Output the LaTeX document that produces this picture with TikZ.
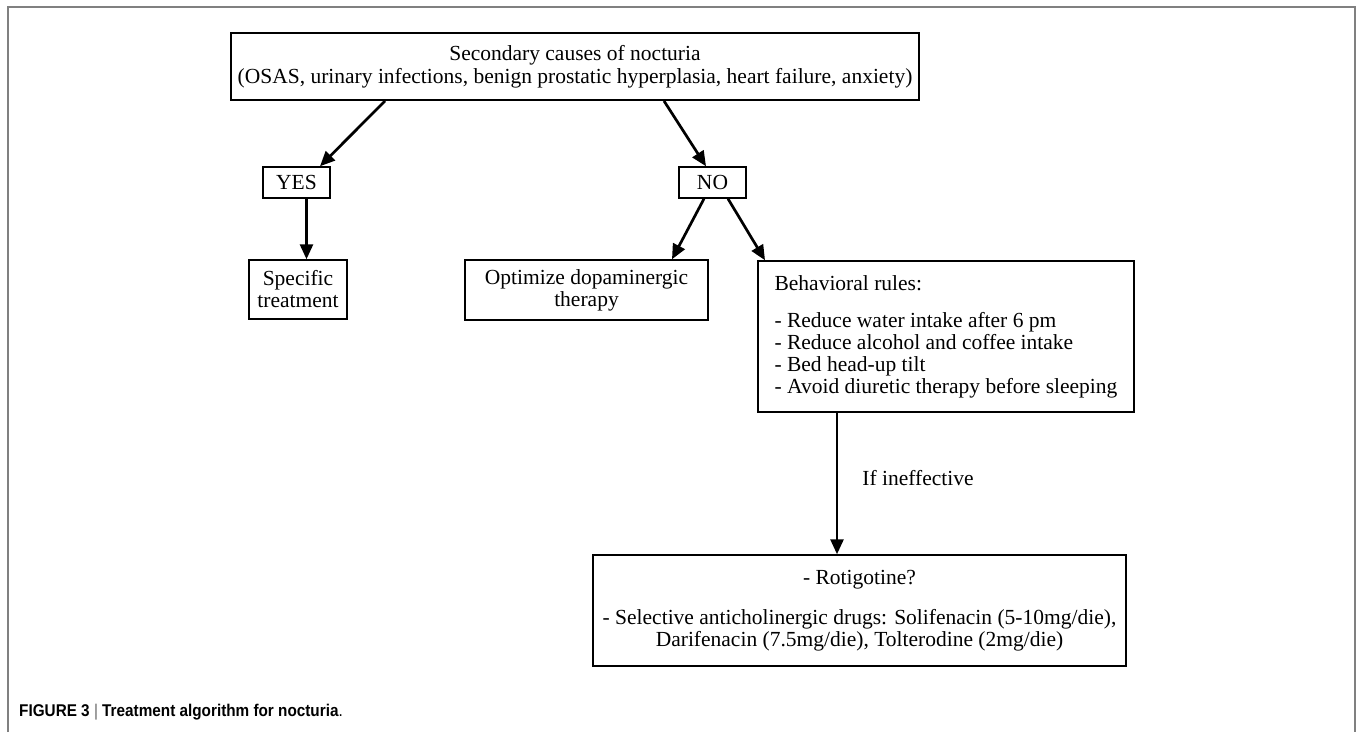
\documentclass[tikz,border=0pt]{standalone}
\usepackage{fontspec}
\setmainfont{Liberation Serif}
\newfontfamily\capfont[FakeStretch=0.9]{Liberation Sans}
\usetikzlibrary{arrows.meta,calc}
\newcommand{\fs}{\fontsize{21.5}{22}\selectfont}
\tikzset{
  box/.style={draw, line width=1.5pt, inner sep=0pt, font=\fs, align=center},
  arr/.style={line width=2.7pt, -{Triangle[length=15pt,width=13pt]}},
  frameline/.style={draw=black!50, line width=2pt},
}
\begin{document}
\begin{tikzpicture}[x=1pt,y=-1pt]
\useasboundingbox (0,0) rectangle (1357,732);
\fill[white] (0,0) rectangle (1357,732);
% frame
\draw[frameline] (8,732) -- (8,7) -- (1355,7) -- (1355,732);

\node[box, line width=1.9pt, minimum width=688, minimum height=67] (top) at (575,66.5)
  {Secondary causes of nocturia\\[1pt](OSAS, urinary infections, benign prostatic hyperplasia, heart failure, anxiety)};
\node[box, minimum width=67, minimum height=31] (yes) at (296.5,182.5) {YES};
\node[box, minimum width=67, minimum height=31] (no) at (712.5,182.5) {NO};
\node[box, minimum width=98, minimum height=59] (spec) at (298,289.5) {Specific\\treatment};
\node[box, minimum width=243, minimum height=60] (opt) at (586.5,290) {Optimize dopaminergic\\therapy};
\node[box, align=left, minimum width=376, minimum height=151] (beh) at (946,336.5)
  {Behavioral rules:\\[15pt]- Reduce water intake after 6 pm\\- Reduce alcohol and coffee intake\\- Bed head-up tilt\\- Avoid diuretic therapy before sleeping};
\node[box, minimum width=533, minimum height=111] (bot) at (859.5,610.5)
  {- Rotigotine?\\[18pt]- Selective anticholinergic drugs: Solifenacin (5-10mg/die),\\Darifenacin (7.5mg/die), Tolterodine (2mg/die)};
\node[font=\fs, inner sep=0pt] (lbl) at (918,478) {If ineffective};

\draw[arr] ($(top.south)+(-190,0)$) -- ($(yes.north)+(23.5,0)$);
\draw[arr] ($(top.south)+(89,0)$) -- ($(no.north)+(-6.5,0)$);
\draw[arr] ($(yes.south)+(10,0)$) -- ($(spec.north)+(8.5,0)$);
\draw[arr] ($(no.south)+(-8.5,0)$) -- ($(opt.north)+(85.5,0)$);
\draw[arr] ($(no.south)+(15.5,0)$) -- ($(beh.north)+(-181,0)$);
\draw[arr] ($(beh.south)+(-109,0)$) -- ($(bot.north)+(-22.5,0)$);

\node[anchor=west, inner sep=0pt, font=\capfont\fontsize{17}{19}\selectfont] (cap) at (19,712)
  {\textbf{FIGURE 3} {\color{black!60}|} \textbf{Treatment algorithm for nocturia}.};
\end{tikzpicture}
\end{document}
